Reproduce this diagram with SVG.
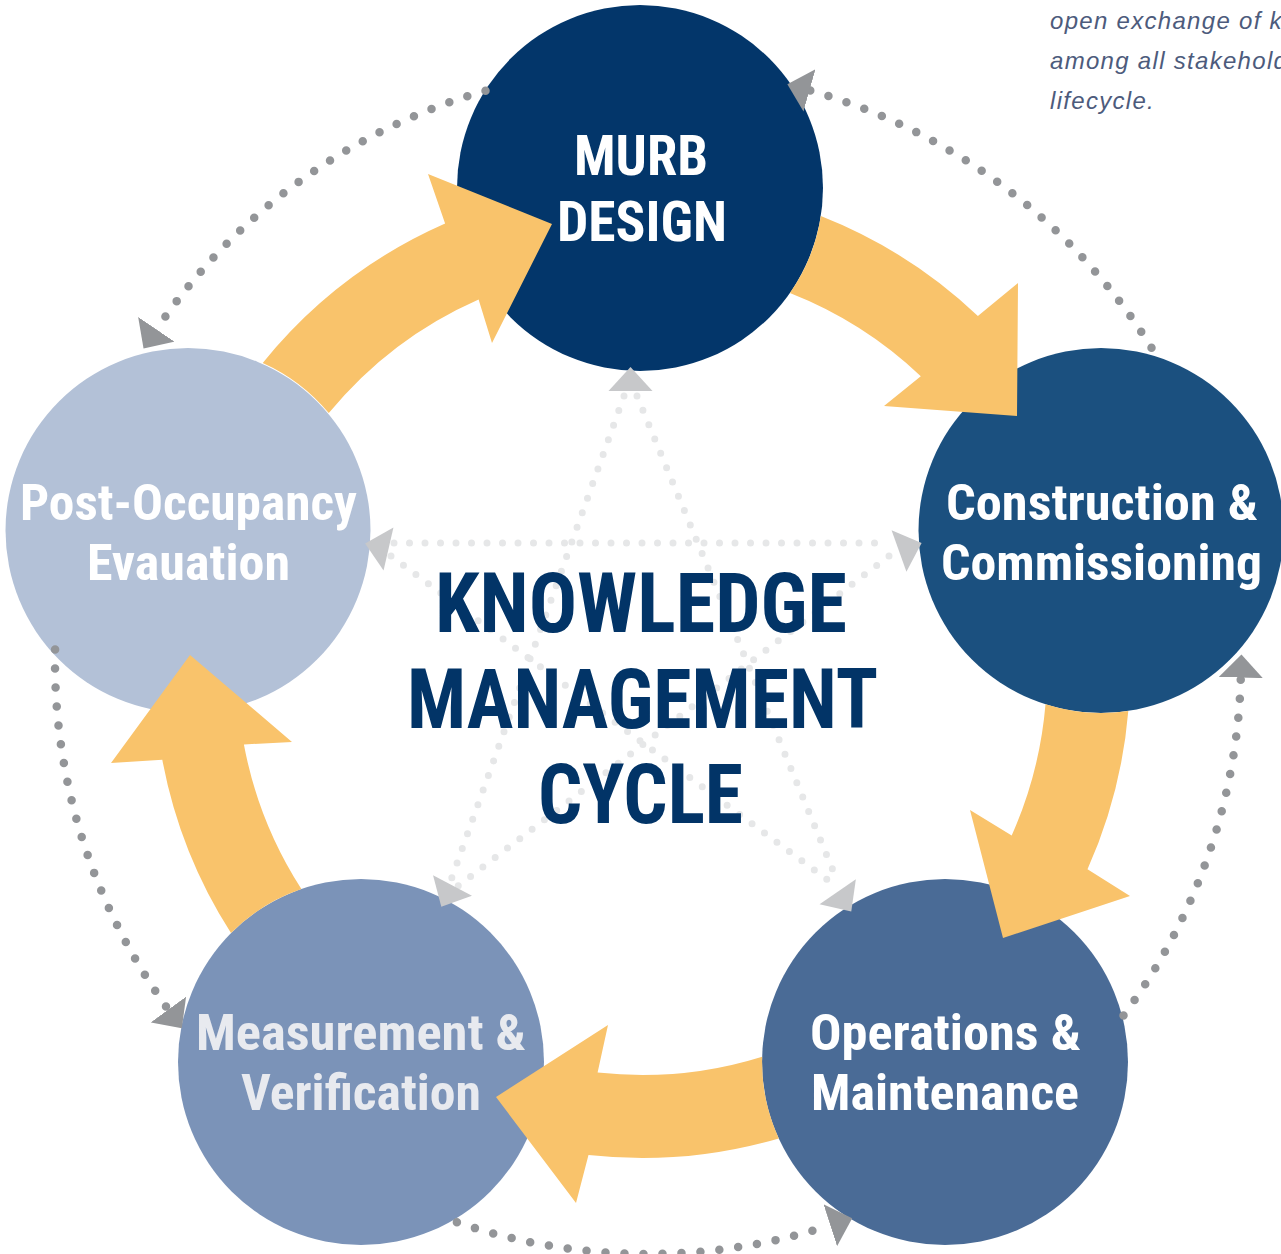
<svg xmlns="http://www.w3.org/2000/svg" xmlns:xlink="http://www.w3.org/1999/xlink" width="1281" height="1254" viewBox="0 0 1281 1254">
  <style>
    .lbl { font-family: "Liberation Sans Narrow", "Roboto Condensed", "Liberation Sans", Arial, sans-serif; font-weight: bold; text-anchor: middle; }
    .title { font-family: "Liberation Sans Narrow", "Roboto Condensed", "Liberation Sans", Arial, sans-serif; font-weight: bold; text-anchor: middle; fill: #023467; font-size: 84px; }
    .note { font-family: "Liberation Sans", Arial, sans-serif; font-style: italic; font-size: 24px; fill: #4d5b7c; letter-spacing: 1.3px; }
    .flow { fill: #f9c36b; }
    .outer { fill: none; stroke: #939598; stroke-width: 8.5; stroke-linecap: round; stroke-dasharray: 0 19; marker-end: url(#ah-outer); }
    .star { fill: none; stroke: #e6e7e8; stroke-width: 7; stroke-linecap: round; stroke-dasharray: 0 15.5; }
    .starhead { fill: #c7c8ca; }
  </style>
  <defs>
    <marker id="ah-outer" viewBox="0 0 24 44" markerWidth="24" markerHeight="44" refX="0" refY="22" orient="auto" markerUnits="userSpaceOnUse">
      <path d="M0,0 L23,22 L0,44 Z" fill="#939598"/>
    </marker>
    <path id="sh" d="M0,-22 L24,0 L0,22 Z"/>
  </defs>

  <rect width="1281" height="1254" fill="#ffffff"/>

  <g id="note">
    <text class="note" x="1050" y="29">open exchange of kn</text>
    <text class="note" x="1050" y="69">among all stakehold</text>
    <text class="note" x="1050" y="109">lifecycle.</text>
  </g>

  <g id="node-murb-design">
    <circle cx="640" cy="188" r="183" fill="#03366a"/>
    <text class="lbl" x="641" y="175" font-size="56" fill="#ffffff" textLength="134" lengthAdjust="spacingAndGlyphs">MURB</text>
    <text class="lbl" x="642" y="241" font-size="56" fill="#ffffff" textLength="170" lengthAdjust="spacingAndGlyphs">DESIGN</text>
  </g>
  <g id="node-construction">
    <circle cx="1101" cy="530.5" r="182.5" fill="#1b507f"/>
    <text class="lbl" x="1102" y="520" font-size="50" fill="#ffffff" textLength="312" lengthAdjust="spacingAndGlyphs">Construction &amp;</text>
    <text class="lbl" x="1101.5" y="580" font-size="50" fill="#ffffff" textLength="321" lengthAdjust="spacingAndGlyphs">Commissioning</text>
  </g>
  <g id="node-operations">
    <circle cx="945" cy="1062" r="183" fill="#4a6b96"/>
    <text class="lbl" x="945.5" y="1050" font-size="50" fill="#ffffff" textLength="271" lengthAdjust="spacingAndGlyphs">Operations &amp;</text>
    <text class="lbl" x="945" y="1110" font-size="50" fill="#ffffff" textLength="268" lengthAdjust="spacingAndGlyphs">Maintenance</text>
  </g>
  <g id="node-measurement">
    <circle cx="361" cy="1062" r="183" fill="#7b93b8"/>
    <text class="lbl" x="361" y="1050" font-size="50" fill="#e8eaef" textLength="330" lengthAdjust="spacingAndGlyphs">Measurement &amp;</text>
    <text class="lbl" x="361" y="1110" font-size="50" fill="#e8eaef" textLength="240" lengthAdjust="spacingAndGlyphs">Verification</text>
  </g>
  <g id="node-post-occupancy">
    <circle cx="188" cy="530.5" r="182.5" fill="#b3c1d7"/>
    <text class="lbl" x="188.5" y="520" font-size="50" fill="#ffffff" textLength="337" lengthAdjust="spacingAndGlyphs">Post-Occupancy</text>
    <text class="lbl" x="188.5" y="580" font-size="50" fill="#ffffff" textLength="203" lengthAdjust="spacingAndGlyphs">Evauation</text>
  </g>

  <g id="connectors">
    <!-- main cycle arrows -->
    <path class="flow" d="M262.7,362.9 A488,488 0 0 1 445.1,223.5 L428,174 L552,224 L492,343 L478.6,299.4 A405,405 0 0 0 328.8,413.1 A183,183 0 0 0 262.7,362.9 Z"/>
    <path class="flow" d="M820.8,216 A488,488 0 0 1 977.9,316 L1018,283 L1017,416 L884,406 L920.8,376.2 A405,405 0 0 0 789.9,293 A183,183 0 0 0 820.8,216 Z"/>
    <path class="flow" d="M1128.3,710.9 A488,488 0 0 1 1087.5,869.3 L1130,896 L1003,938 L970,810 L1011.7,835.4 A405,405 0 0 0 1045.5,704.3 A183,183 0 0 0 1128.3,710.9 Z"/>
    <path class="flow" d="M778.8,1138.4 A488,488 0 0 1 588.5,1155.1 L576,1203 L496,1097 L608,1025 L597.6,1072.6 A405,405 0 0 0 762.2,1056.7 A183,183 0 0 0 778.8,1138.4 Z"/>
    <path class="flow" d="M231,933.1 A488,488 0 0 1 162.3,759.8 L111,763 L190,655 L292,742 L243.9,744.5 A405,405 0 0 0 301.4,889.1 A183,183 0 0 0 231,933.1 Z"/>

    <!-- outer dotted feedback arcs -->
    <path class="outer" d="M485.5,90.7 A593,593 0 0 0 156.4,329.4"/>
    <path class="outer" d="M55.1,649.6 A593,593 0 0 0 168.3,1009.6"/>
    <path class="outer" d="M456.9,1222.3 A593,593 0 0 0 830.3,1225.3"/>
    <path class="outer" d="M1123.5,1015.4 A593,593 0 0 0 1240.8,677.5"/>
    <path class="outer" d="M1151.5,347.7 A593,593 0 0 0 809.5,90.4"/>

    <!-- inner star exchange lines -->
    <path class="star" d="M394,543 L889,543"/>
    <path class="star" d="M391,556 L836,886"/>
    <path class="star" d="M889,556 L458,886"/>
    <path class="star" d="M624,396 L451,880"/>
    <path class="star" d="M637,396 L837,880"/>
    <use xlink:href="#sh" href="#sh" class="starhead" transform="translate(630.5,391) rotate(-90)"/>
    <use xlink:href="#sh" href="#sh" class="starhead" transform="translate(388.5,549) rotate(193)"/>
    <use xlink:href="#sh" href="#sh" class="starhead" transform="translate(899,551) rotate(-19.7)"/>
    <use xlink:href="#sh" href="#sh" class="starhead" transform="translate(452.5,885.5) rotate(117.8)"/>
    <use xlink:href="#sh" href="#sh" class="starhead" transform="translate(837.7,891.7) rotate(55.6)"/>
  </g>

  <g id="title">
    <text class="title" x="641" y="632" textLength="412" lengthAdjust="spacingAndGlyphs">KNOWLEDGE</text>
    <text class="title" x="642.5" y="728" textLength="471" lengthAdjust="spacingAndGlyphs">MANAGEMENT</text>
    <text class="title" x="640.5" y="823" textLength="205" lengthAdjust="spacingAndGlyphs">CYCLE</text>
  </g>
</svg>
